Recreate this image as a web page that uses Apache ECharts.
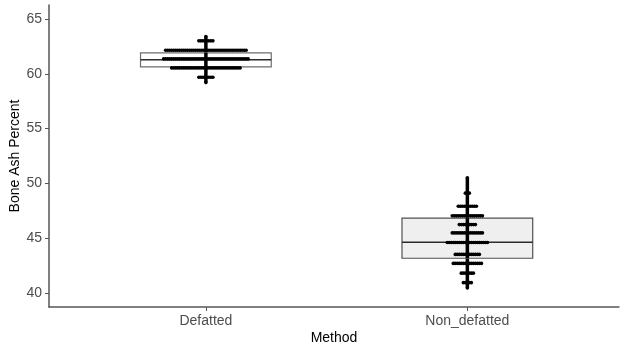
<!DOCTYPE html>
<html>
<head>
<meta charset="utf-8">
<script src="https://cdn.jsdelivr.net/npm/echarts@6/dist/echarts.min.js"></script>
<style>
  html, body { margin: 0; padding: 0; background: #fff; }
  #chart { width: 620px; height: 347px; }
</style>
</head>
<body>
<div id="chart"></div>
<script>
// Groups on the x axis
const categories = ['Defatted', 'Non_defatted'];

// Box summaries per group: [lower whisker, Q1, median, Q3, upper whisker]
const boxDefatted = [59.2, 60.63, 61.28, 61.91, 63.4];
const boxNonDefatted = [40.46, 43.17, 44.63, 46.83, 50.51];

// Dot-plot bins: bin centre values and the number of dots stacked in each bin
const defattedBins = [63.40, 63.01, 62.15, 61.36, 60.54, 59.68, 59.20];
const defattedCounts = [1, 8, 41, 43, 35, 8, 1];
const nonDefattedBins = [50.51, 49.11, 47.91, 47.04, 46.24, 45.48, 44.60, 43.52, 42.70, 41.81, 40.94, 40.46];
const nonDefattedCounts = [1, 3, 10, 16, 9, 16, 21, 13, 15, 7, 5, 1];

// Y axis tick values
const yTicks = [40, 45, 50, 55, 60, 65];

const BOX_WIDTH = 0.5;     // box width in x units
const DOT_STEP = 0.0077;   // horizontal spacing of stacked dots in x units

const boxes = [boxDefatted, boxNonDefatted];
const boxFills = ['#ffffff', '#efefef'];
const boxStrokes = ['#6e6e6e', '#505050'];

// Build centred stacks of dots for every bin
function stackDots(xCenter, bins, counts) {
  const pts = [];
  bins.forEach((v, i) => {
    const n = counts[i];
    for (let k = 0; k < n; k++) {
      pts.push([xCenter + (k - (n - 1) / 2) * DOT_STEP, v]);
    }
  });
  return pts;
}
const dots = stackDots(1, defattedBins, defattedCounts)
  .concat(stackDots(2, nonDefattedBins, nonDefattedCounts));

const boxData = boxes.map((b, i) => [i + 1].concat(b));

const chart = echarts.init(document.getElementById('chart'), null, { renderer: 'canvas' });

const axisLineStyle = { color: '#555555', width: 1.5 };
const labelFont = 'Liberation Sans, Arial, sans-serif';

chart.setOption({
  animation: false,
  backgroundColor: '#ffffff',
  grid: { left: 49, right: 1, top: 5, bottom: 40, containLabel: false, outerBoundsMode: 'none' },
  xAxis: {
    type: 'value',
    min: 0.4,
    max: 2.58,
    name: 'Method',
    nameLocation: 'middle',
    nameGap: 24,
    nameMoveOverlap: false,
    nameTextStyle: { color: '#000', fontSize: 14, fontFamily: labelFont },
    axisLine: { show: true, onZero: false, lineStyle: axisLineStyle },
    axisTick: { show: true, length: 4, customValues: [1, 2], lineStyle: { color: '#555', width: 1 } },
    axisLabel: {
      customValues: [1, 2],
      margin: 7,
      color: '#4d4d4d',
      fontSize: 14,
      fontFamily: labelFont,
      formatter: v => categories[Math.round(v) - 1] || ''
    },
    splitLine: { show: false }
  },
  yAxis: {
    type: 'value',
    min: 38.72,
    max: 66.28,
    name: 'Bone Ash Percent',
    nameLocation: 'middle',
    nameRotate: 90,
    nameGap: 27,
    nameMoveOverlap: false,
    nameTextStyle: { color: '#000', fontSize: 14, fontFamily: labelFont },
    axisLine: { show: true, onZero: false, lineStyle: axisLineStyle },
    axisTick: { show: true, length: 4, customValues: yTicks, lineStyle: { color: '#555', width: 1 } },
    axisLabel: {
      customValues: yTicks,
      margin: 7,
      color: '#4d4d4d',
      fontSize: 14,
      fontFamily: labelFont
    },
    splitLine: { show: false }
  },
  series: [
    {
      type: 'custom',
      name: 'box',
      data: boxData,
      encode: { x: 0, y: [1, 2, 3, 4, 5] },
      renderItem: function (params, api) {
        const x = api.value(0);
        const i = params.dataIndex;
        const lo = api.coord([x, api.value(1)]);
        const q1 = api.coord([x, api.value(2)]);
        const med = api.coord([x, api.value(3)]);
        const q3 = api.coord([x, api.value(4)]);
        const hi = api.coord([x, api.value(5)]);
        const half = api.size([BOX_WIDTH, 0])[0] / 2;
        const cx = q1[0];
        return {
          type: 'group',
          children: [
            { type: 'line', shape: { x1: cx, y1: hi[1], x2: cx, y2: q3[1] },
              style: { stroke: '#000', lineWidth: 3.5 } },
            { type: 'line', shape: { x1: cx, y1: q1[1], x2: cx, y2: lo[1] },
              style: { stroke: '#000', lineWidth: 3.5 } },
            { type: 'rect', shape: { x: cx - half, y: q3[1], width: half * 2, height: q1[1] - q3[1] },
              style: { fill: boxFills[i], stroke: boxStrokes[i], lineWidth: 1.2 } },
            { type: 'line', shape: { x1: cx - half, y1: med[1], x2: cx + half, y2: med[1] },
              style: { stroke: '#2b2b2b', lineWidth: 1.6 } },
            { type: 'line', shape: { x1: cx, y1: q3[1], x2: cx, y2: q1[1] },
              style: { stroke: '#000', lineWidth: 3.5 } }
          ]
        };
      },
      z: 2
    },
    {
      type: 'scatter',
      name: 'dots',
      data: dots,
      symbol: 'circle',
      symbolSize: 3.6,
      itemStyle: { color: '#000000', opacity: 1 },
      z: 3
    }
  ]
});
</script>
</body>
</html>
